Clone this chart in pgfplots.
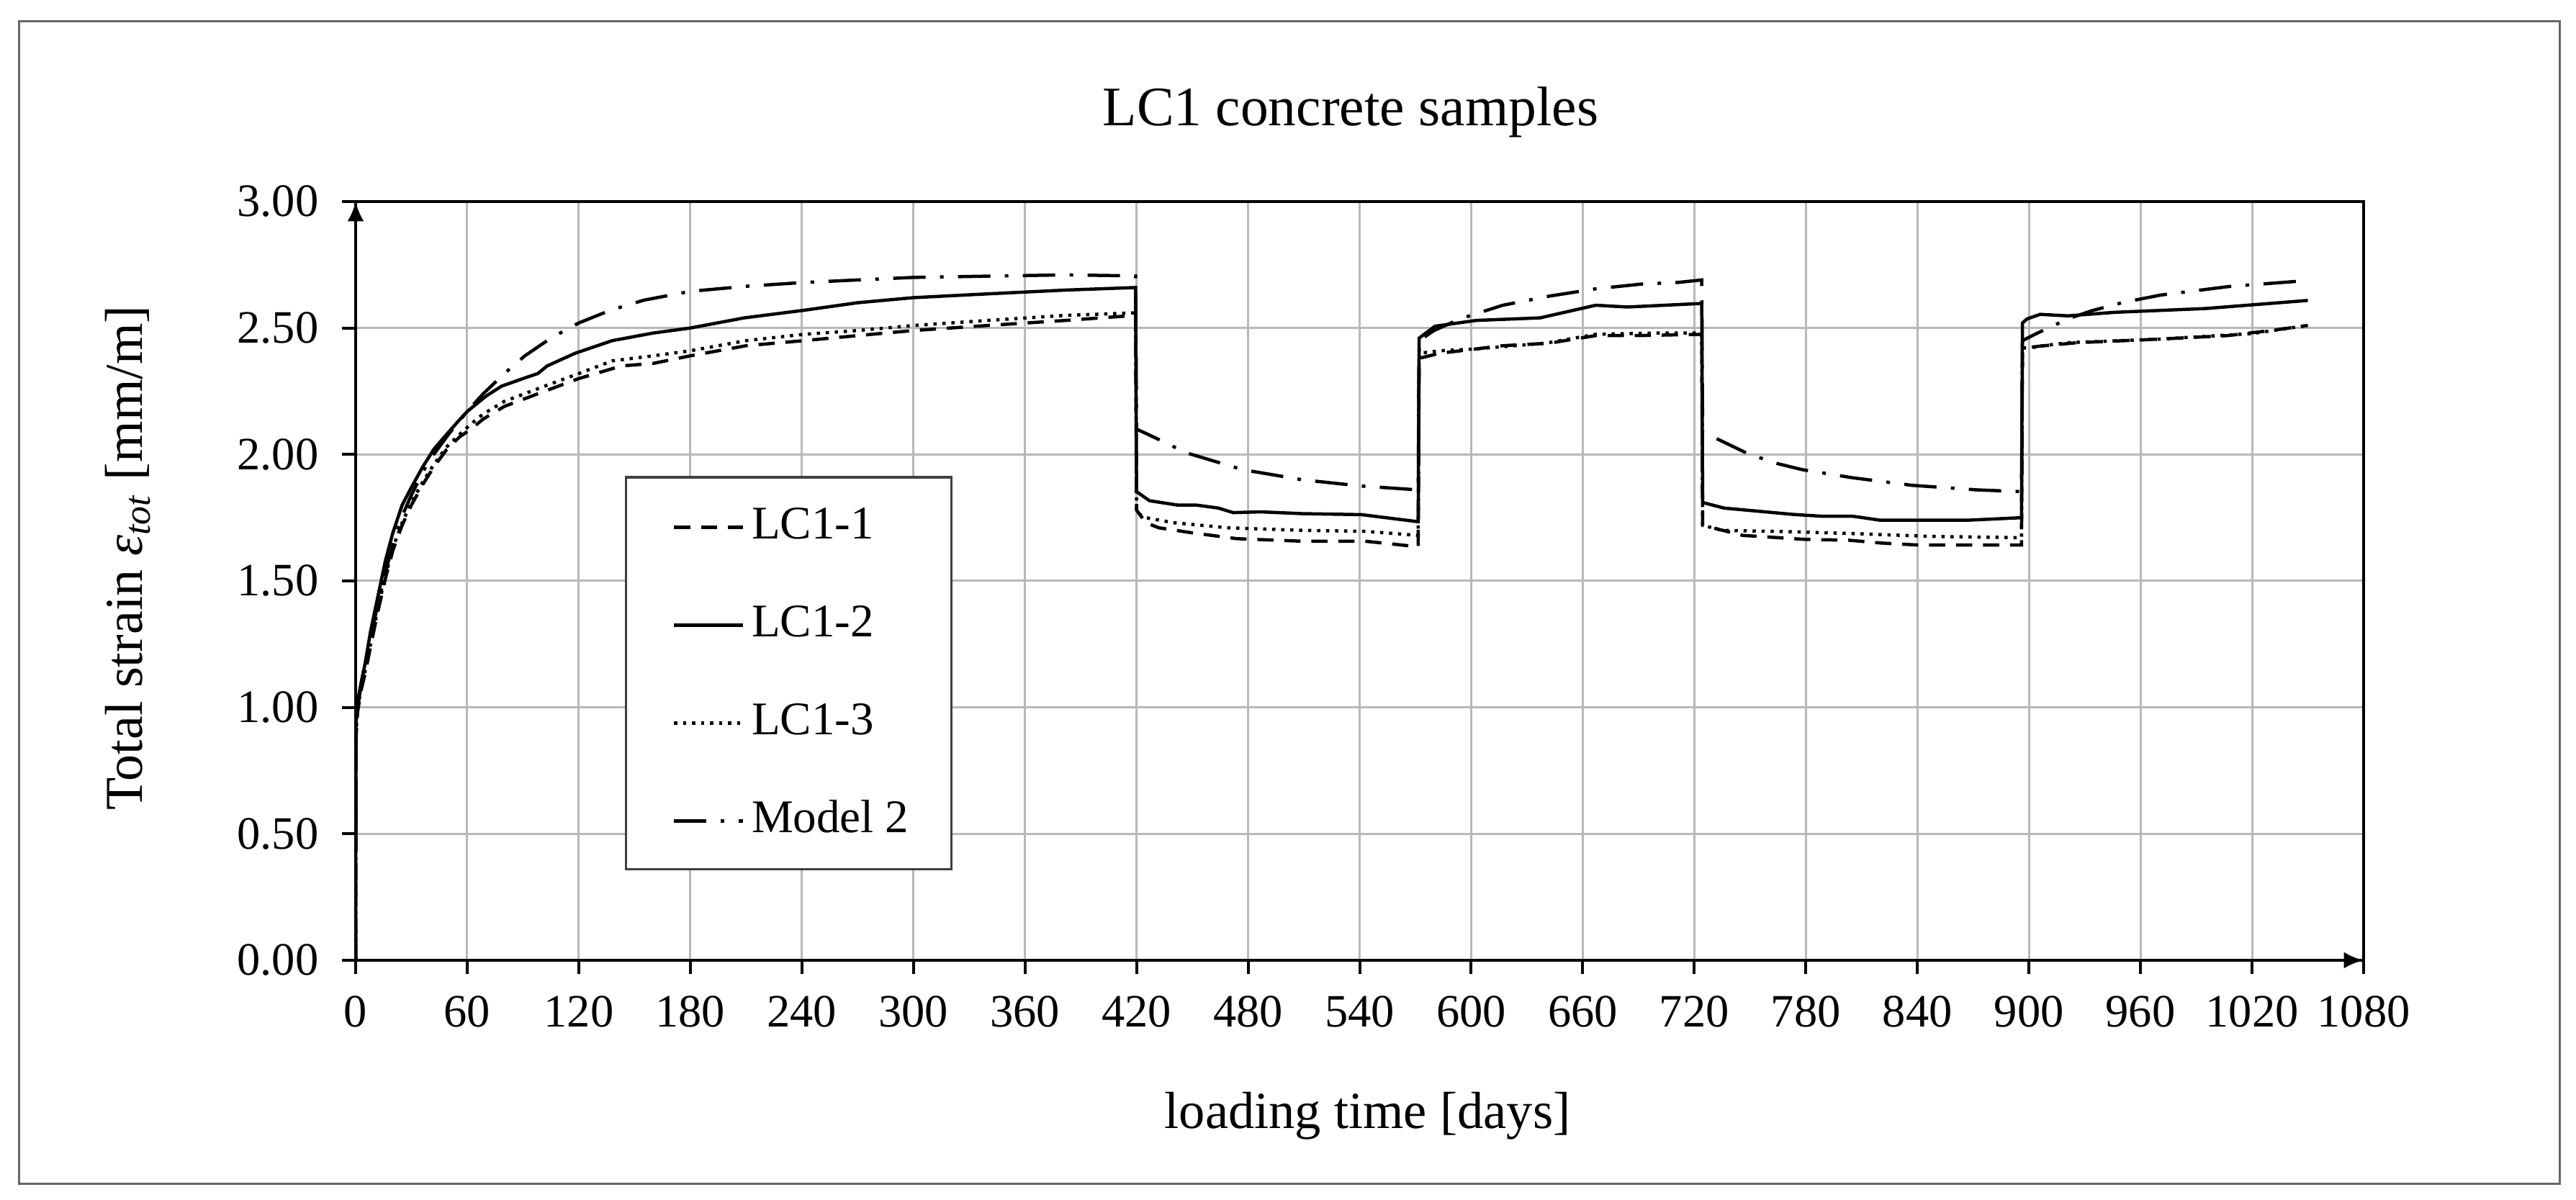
\documentclass[border=0pt]{standalone}
\usepackage{fontspec}
\setmainfont{Liberation Serif}
\usepackage{pgfplots}
\usepackage{pgfplotstable}
\pgfplotsset{compat=1.18}
\usetikzlibrary{arrows.meta}

\pgfplotstableread{
x y
0 0
0.2 0.88
1 0.98
3 1.07
5 1.13
8 1.24
12 1.38
16 1.51
20 1.62
25 1.72
30 1.80
36 1.88
42 1.95
49 2.02
56 2.07
62 2.10
68.6 2.14
80 2.19
98 2.24
120 2.30
143 2.35
160 2.36
180 2.39
210 2.43
241 2.45
270 2.47
300 2.49
340 2.51
382 2.53
419.5 2.55
420 1.78
425 1.73
432 1.71
450 1.69
474 1.667
509 1.657
543 1.657
571.5 1.635
572 2.38
583 2.40
617 2.43
642 2.44
667 2.47
690 2.47
724 2.475
724.5 1.72
746 1.68
780 1.664
803 1.661
820 1.65
840 1.642
896 1.642
896.5 2.405
904 2.427
926 2.442
970 2.456
1007 2.47
1030 2.49
1050 2.51
}\lcone

\pgfplotstableread{
x y
0 0
0.2 0.95
1 1.02
3 1.10
5 1.17
8 1.30
12 1.44
16 1.58
20 1.69
25 1.80
30 1.87
36 1.95
42 2.02
49 2.08
55 2.13
60 2.17
70 2.23
78.5 2.27
90 2.30
98 2.32
103 2.35
118 2.40
138 2.45
160 2.48
180 2.50
209 2.54
241 2.57
270 2.60
300 2.62
340 2.635
382 2.65
419.5 2.66
420 1.853
427 1.817
442 1.80
452 1.80
464 1.788
472 1.77
487 1.773
509 1.766
541 1.762
571.5 1.734
572 2.46
580.5 2.507
602.7 2.53
637 2.54
667 2.59
684 2.583
724 2.597
724.5 1.81
736 1.788
773 1.763
788 1.756
805 1.756
820 1.74
867 1.74
896 1.75
896.5 2.52
899 2.536
906 2.554
921 2.548
946 2.562
995 2.577
1050 2.609
}\lctwo

\pgfplotstableread{
x y
0 0
0.2 0.90
1 0.99
3 1.08
5 1.14
8 1.25
12 1.39
16 1.52
20 1.63
25 1.73
30 1.81
36 1.89
42 1.96
49 2.03
56 2.08
62 2.12
68.6 2.16
80 2.21
98 2.26
120 2.32
138 2.37
160 2.39
180 2.41
210 2.45
241 2.475
270 2.49
300 2.51
340 2.53
382 2.55
419.5 2.56
420 1.77
425 1.75
440 1.73
469 1.71
509 1.70
543 1.696
571.5 1.68
572 2.40
583 2.41
602 2.417
640 2.44
667 2.475
700 2.48
724 2.48
724.5 1.72
735 1.70
770 1.695
810 1.686
847 1.676
896 1.671
896.5 2.42
921 2.442
970 2.456
1020 2.478
1050 2.51
}\lcthree

\pgfplotstableread{
x y
0 0
0.2 0.92
1 1.00
4.4 1.15
8 1.28
13 1.44
18 1.59
24 1.74
30 1.84
39 1.97
50 2.08
60 2.17
68.6 2.24
80 2.32
91 2.39
105 2.46
120 2.52
137 2.57
155 2.61
180 2.645
210 2.665
241 2.68
270 2.69
300 2.70
340 2.705
382 2.71
419.5 2.706
420 2.10
426 2.08
447 2.006
477 1.94
509 1.90
541 1.875
571.5 1.86
572 2.45
580 2.49
594 2.536
617 2.59
642 2.626
667 2.655
692 2.674
711 2.68
724 2.69
724.5 2.086
733.6 2.057
748 2.006
763 1.967
778 1.94
805 1.908
837 1.878
872 1.86
896 1.853
896.5 2.45
904 2.478
921 2.536
933.6 2.568
950 2.60
970.6 2.63
1007.6 2.664
1045 2.685
}\modeltwo

\begin{document}
\begin{tikzpicture}
\path[use as bounding box] (-98.8pt,-66.6pt) rectangle (616.8pt,266.8pt);
\draw[line width=0.6pt, black!60] (-93.4pt,-62.2pt) rectangle (612.2pt,260.9pt);
\begin{axis}[
  at={(0pt,0pt)}, anchor=south west,
  scale only axis, width=557.8pt, height=210.8pt,
  xmin=0, xmax=1080, ymin=0, ymax=3,
  clip mode=individual,
  xtick={0,60,120,180,240,300,360,420,480,540,600,660,720,780,840,900,960,1020,1080},
  ytick={0,0.5,1,1.5,2,2.5,3},
  grid=major,
  major grid style={black!28, line width=0.6pt},
  axis line style={line width=0.8pt},
  tick style={black, line width=0.8pt},
  tick align=outside, major tick length=3.8pt,
  xtick pos=bottom, ytick pos=left,
  /pgf/number format/assume math mode=true,
  /pgf/number format/1000 sep={},
  yticklabel style={/pgf/number format/fixed, /pgf/number format/fixed zerofill, /pgf/number format/precision=2, xshift=-3pt},
  xticklabel style={yshift=-2.5pt},
  tick label style={font=\fontsize{12.9}{15}\selectfont},
  legend cell align=left,
  legend image code/.code={\draw[#1] (0pt,0pt) -- (19.1pt,0pt);},
  legend style={draw=none, fill=none, at={(axis cs:170,1.80)}, anchor=north west,
    font=\fontsize{13}{15}\selectfont, row sep=15.2pt, column sep=2pt,
    inner sep=0pt, nodes={inner sep=0pt, text height=9.2pt, text depth=2.8pt}},
]
\addplot[black, line width=0.9pt, dash pattern=on 4.5pt off 3pt] table {\lcone};
\addlegendentry{LC1-1}
\addplot[black, line width=0.9pt] table {\lctwo};
\addlegendentry{LC1-2}
\addplot[black, line width=0.9pt, dash pattern=on 0.9pt off 1.6pt] table {\lcthree};
\addlegendentry{LC1-3}
\addplot[black, line width=0.9pt, dash pattern=on 9pt off 4pt on 1pt off 4pt] table {\modeltwo};
\addlegendentry{Model 2}
\draw[draw=black!75, fill=white, line width=0.7pt] (axis cs:145.4,1.91) rectangle (axis cs:320.4,0.36);
\draw[black, line width=0.8pt, -{Latex[length=5.5pt,width=4.6pt]}] (axis cs:1060,0) -- (axis cs:1080,0);
\draw[black, line width=0.8pt, -{Latex[length=5.5pt,width=4.6pt]}] (axis cs:0,2.9) -- (axis cs:0,3);
\end{axis}
\node[anchor=base, font=\fontsize{15.5}{18}\selectfont] at (276.4pt,231.8pt) {LC1 concrete samples};
\node[anchor=base, font=\fontsize{14.5}{17}\selectfont] at (281.1pt,-46.7pt) {loading time [days]};
\node[anchor=base, rotate=90, font=\fontsize{14.8}{17}\selectfont] at (-59.2pt,111.8pt) {Total strain \textit{ε}\textsubscript{\textit{tot}} [mm/m]};
\end{tikzpicture}
\end{document}
